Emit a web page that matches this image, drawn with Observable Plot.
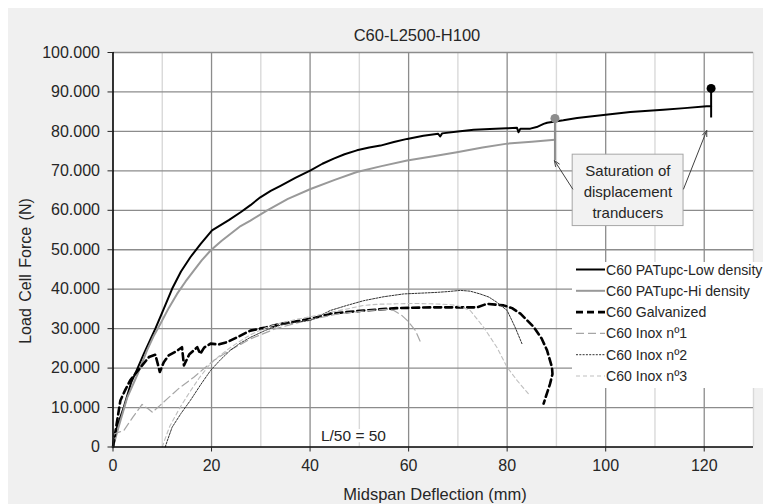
<!DOCTYPE html>
<html><head><meta charset="utf-8">
<script src="https://cdn.jsdelivr.net/npm/d3@7"></script>
<script src="https://cdn.jsdelivr.net/npm/@observablehq/plot@0.6"></script>
<style>
body{margin:0;background:#fff;}
svg{display:block;}
svg g[aria-label="x-axis tick label"], svg g[aria-label="y-axis tick label"]{font-size:16px !important;}
svg g[aria-label="x-axis tick label"] text, svg g[aria-label="y-axis tick label"] text{font-size:16px !important;}
</style>
</head><body><div id="chart"></div>
<script>
// ---------- data ----------
const title = "C60-L2500-H100";
const xLabel = "Midspan Deflection (mm)";
const yLabel = "Load Cell Force (N)";
const seriesNames = ["C60 PATupc-Low density","C60 PATupc-Hi density","C60 Galvanized","C60 Inox nº1","C60 Inox nº2","C60 Inox nº3"];

const lowX = [0,0.8,2.2,3.7,5.0,6.25,7.5,8.6,10.3,12.0,13.8,15.7,17.8,20.1,23.5,25.9,27.9,29.9,32,34.0,37,40.1,42.5,44.8,47,49.5,52,54.3,57,59.7,63,66.0,66.4,66.8,70,73.2,76.5,80.0,82.0,82.3,82.7,84.7,86.0,87.4,88.1,91.4,94.2,100,105.0,111.7,116,120.5,121.4];
const lowY = [0,5000,10100,16400,20000,23600,27000,30000,35000,40100,44500,48100,51500,54900,57500,59500,61300,63300,64900,66200,68200,70100,71800,73100,74200,75200,75900,76400,77300,78100,78900,79400,78700,79500,80000,80400,80600,80800,80900,79800,80700,80700,81100,81900,82200,82800,83400,84200,84900,85500,85900,86400,86400];

const hiX = [0,1.0,2.9,5.0,6.9,8.2,9.6,11.3,13.0,14.7,16.4,18.0,19.8,22,25.9,27.9,31.3,35.5,40.1,45,49.5,54.5,59.7,65,69.8,75,80.0,85,89.7];
const hiY = [0,4500,12600,18500,24500,28000,31200,35200,38800,41900,44700,47300,49800,52200,56000,57400,60000,62900,65400,67700,69700,71200,72600,73700,74700,75900,76900,77400,77900];

const galvX = [0,0.7,1.5,2.5,3.5,4.5,5.6,7.3,8.6,9.1,9.5,10.3,11.3,12.8,14.0,14.4,15.5,17.1,17.7,18.5,19.8,21.5,23.2,25.5,27.9,31,34.0,37,40.1,44.1,50.9,57.6,64.4,70,73.9,75.9,79.3,81,82.7,85.4,87,88.1,89.1,89.2,88.7,87.4];
const galvY = [0,5500,11800,14500,16900,18500,20200,22800,23400,21000,19000,21500,23200,24200,25300,20700,23500,25300,23600,25200,26200,26000,26600,28000,29500,30300,31200,31800,32500,33800,34600,35200,35400,35400,35400,36300,35900,35200,33800,30400,27500,24500,20200,18500,16000,11000];

const inox1X = [0,0.2,2.2,4.0,5.9,7.0,8.0,9.5,11.0,13.5,16.4,20.4,24,27.9,33,40,46,52,55.5,57.0,58.5,59.7,61.4,62.4];
const inox1Y = [0,3300,4200,7500,10800,9800,8800,10500,12200,15000,17700,21900,24700,27400,30000,32300,33800,34600,34900,34600,33500,32100,29500,26600];

const inox2X = [10.6,11.0,12.0,13.8,15.7,17.8,19.8,21.8,23.8,25.8,27.9,31,34,37,40.1,44.1,47.5,50.9,55,59.0,62.5,65.8,68,70.5,72.5,74.5,76.3,77.9,80.0,81.6,83.0];
const inox2Y = [0,1500,5000,8500,11800,15800,19400,22100,24500,26300,27800,29600,30900,31600,32100,34600,35900,37100,38100,38800,39000,39200,39400,39700,39500,38800,38000,36700,34600,30400,26200];

const inox3X = [10.0,10.5,11.5,13.5,15.5,17.5,19.5,21.5,23.8,26,28,31,34,37,40,44,47.5,50.9,54,57.6,61,64.4,67,69.8,72.5,75.2,77.9,80.0,82.0,84.3];
const inox3Y = [0,1800,5200,9800,13800,17500,20700,23000,25200,27000,28500,30200,31400,32300,33000,34100,35000,35900,36200,36300,36400,36300,36200,35900,34600,30400,25300,20200,16900,13500];

const xTicks = [0,20,40,60,80,100,120];
const yTicks = [0,10000,20000,30000,40000,50000,60000,70000,80000,90000,100000];
const xMinor = [10,30,50,70,90,110,130];

// saturation markers
const satX = [89.7, 121.4];
const satTop = [83300, 90900];
const satBottom = [72600, 83400];
const satColor = ["#8c8c8c", "#000000"];
// callout
const calloutText = "Saturation of\ndisplacement\ntranducers";
const calloutBox = {x1: 93.3, x2: 115.8, y1: 56000, y2: 74100};
const calloutCenter = {x: 104.5, y: 65200};
const arrowsFrom = [{x: 93.3, y: 65400}, {x: 115.8, y: 65400}];
const arrowsTo = [{x: 89.6, y: 72600}, {x: 120.5, y: 80200}];
const lNote = {x: 48.8, y: 2700, text: "L/50 = 50"};

// ---------- styles ----------
const styles = [
  {stroke:"#000", width:2, dash:null},
  {stroke:"#999", width:2, dash:null},
  {stroke:"#000", width:2.6, dash:"7,4"},
  {stroke:"#a6a6a6", width:1.2, dash:"8,4"},
  {stroke:"#333", width:1, dash:"2,1.3"},
  {stroke:"#bfbfbf", width:1.1, dash:"4,3"}
];
const allX = [lowX, hiX, galvX, inox1X, inox2X, inox3X];
const allY = [lowY, hiY, galvY, inox1Y, inox2Y, inox3Y];
const seriesRows = allX.map((xs,i) => xs.map((x,j) => ({x, y: allY[i][j], s: seriesNames[i]})));

const loc = d3.formatLocale({decimal: ",", thousands: ".", grouping: [3], currency: ["", ""]});
const fmt = loc.format(",.0f");
const font = "'Liberation Sans', Arial, sans-serif";

const W = 763, H = 504;
const plot = Plot.plot({
  width: W, height: H,
  marginLeft: 112.5, marginRight: 10, marginTop: 52, marginBottom: 57.5,
  style: {fontFamily: font, fontSize: "16px", color: "#262626", background: "transparent", overflow: "visible"},
  x: {domain: [0, 130]},
  y: {domain: [0, 100000]},
  marks: [
    Plot.frame({fill: "white", stroke: null}),
    Plot.gridX(xMinor, {stroke: "#d9d9d9", strokeOpacity: 1, strokeWidth: 1.4}),
    Plot.gridX(xTicks.slice(1), {stroke: "#8c8c8c", strokeOpacity: 1, strokeWidth: 1.3}),
    Plot.gridY(yTicks.slice(1), {stroke: "#8c8c8c", strokeOpacity: 1, strokeWidth: 1.3}),
    Plot.text([lNote], {x: "x", y: "y", text: "text", fontSize: 15.5, fill: "#262626", stroke: "white", strokeWidth: 8, paintOrder: "stroke"}),
    ...seriesRows.map((rows,i) => Plot.line(rows, {x: "x", y: "y", stroke: styles[i].stroke, strokeWidth: styles[i].width, strokeDasharray: styles[i].dash, curve: "linear", strokeLinejoin: "round"})),
    Plot.ruleX(satX.map((x,i)=>({x, y1: satBottom[i], y2: satTop[i], c: satColor[i]})), {x: "x", y1: "y1", y2: "y2", stroke: "c", strokeWidth: 2}),
    Plot.dot(satX.map((x,i)=>({x, y: satTop[i], c: satColor[i]})), {x: "x", y: "y", fill: "c", r: 4.5}),
    Plot.rect([calloutBox], {x1: "x1", x2: "x2", y1: "y1", y2: "y2", fill: "#f2f2f2", stroke: "#a6a6a6", strokeWidth: 1}),
    Plot.text([calloutCenter], {x: "x", y: "y", text: () => calloutText, fontSize: 15, lineHeight: 1.4, fill: "#262626"}),
    Plot.arrow(arrowsFrom.map((f,i)=>({x1: f.x, y1: f.y, x2: arrowsTo[i].x, y2: arrowsTo[i].y})), {x1: "x1", y1: "y1", x2: "x2", y2: "y2", stroke: "#404040", strokeWidth: 1, headLength: 9, headAngle: 45}),
    Plot.ruleY([0], {stroke: "#000", strokeWidth: 1.6}),
    Plot.ruleX([0], {stroke: "#000", strokeWidth: 1.6}),
    Plot.axisX({ticks: xTicks, tickSize: 5, tickPadding: 8, label: null, tickFormat: d => String(d), fontSize: 16}),
    Plot.axisY({ticks: yTicks, tickSize: 5, tickPadding: 8, label: null, tickFormat: fmt, fontSize: 16})
  ]
});

const svg = d3.select(plot);
// gray figure background
svg.insert("rect", ":first-child").attr("x", 8).attr("y", 8).attr("width", W - 8).attr("height", H - 8).attr("fill", "#f0f0f0");

// title + axis labels
svg.append("text").attr("x", 417).attr("y", 41).attr("text-anchor", "middle")
  .attr("font-family", font).attr("font-size", 16.5).attr("fill", "#262626").text(title);
svg.append("text").attr("x", 435).attr("y", 500).attr("text-anchor", "middle")
  .attr("font-family", font).attr("font-size", 16.5).attr("fill", "#262626").text(xLabel);
svg.append("text").attr("transform", "translate(31,271) rotate(-90)").attr("text-anchor", "middle")
  .attr("font-family", font).attr("font-size", 16).attr("fill", "#262626").attr("word-spacing", 2).text(yLabel);

// legend
const lg = svg.append("g").attr("font-family", font).attr("font-size", 14.1).attr("fill", "#262626").attr("text-anchor", "start");
lg.append("rect").attr("x", 572).attr("y", 262).attr("width", W - 572).attr("height", 126).attr("fill", "white");
seriesNames.forEach((name, i) => {
  const yy = 269.5 + i * 21.3;
  lg.append("line").attr("x1", 576).attr("x2", 605).attr("y1", yy).attr("y2", yy)
    .attr("stroke", styles[i].stroke).attr("stroke-width", styles[i].width)
    .attr("stroke-dasharray", styles[i].dash);
  lg.append("text").attr("x", 606).attr("y", yy).attr("dy", "0.36em").attr("text-anchor", "start").text(name);
});

document.getElementById("chart").appendChild(plot);
</script></body></html>
